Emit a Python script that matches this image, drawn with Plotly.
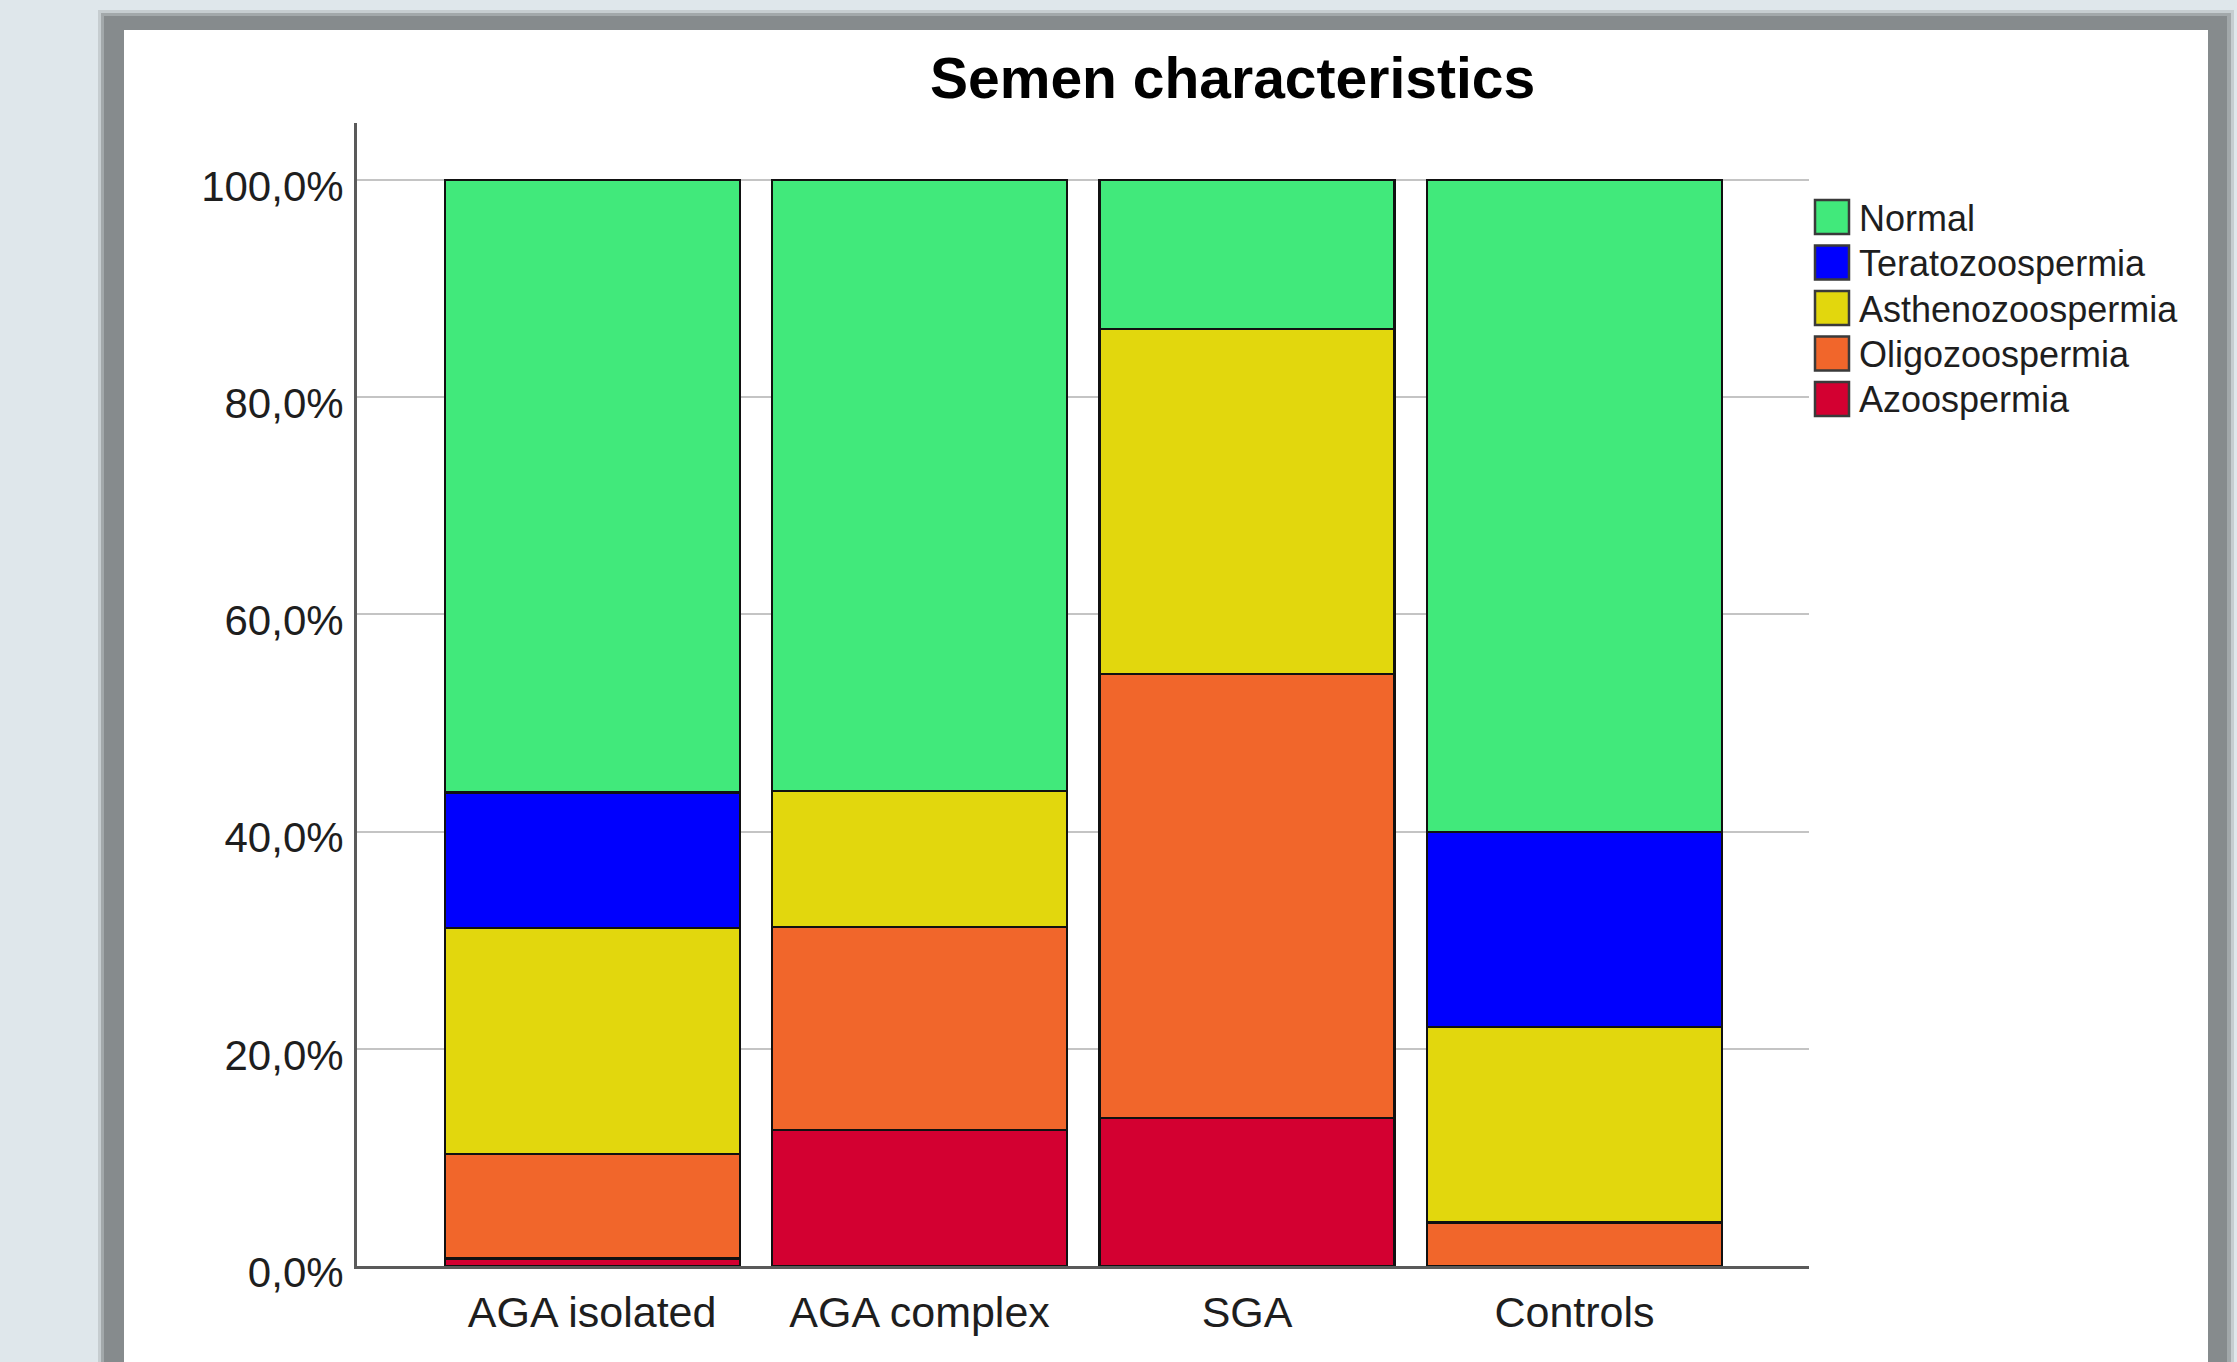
import plotly.graph_objects as go

# ---- data ----
categories = ["AGA isolated", "AGA complex", "SGA", "Controls"]
series_names = ["Azoospermia", "Oligozoospermia", "Asthenozoospermia", "Teratozoospermia", "Normal"]
azoospermia = [0.7, 12.5, 13.6, 0.0]
oligozoospermia = [9.6, 18.75, 40.9, 4.0]
asthenozoospermia = [20.8, 12.5, 31.8, 18.0]
teratozoospermia = [12.5, 0.0, 0.0, 18.0]
normal = [56.4, 56.25, 13.7, 60.0]
tick_values = [0, 20, 40, 60, 80, 100]
tick_labels = ["0,0%", "20,0%", "40,0%", "60,0%", "80,0%", "100,0%"]
legend_order = ["Normal", "Teratozoospermia", "Asthenozoospermia", "Oligozoospermia", "Azoospermia"]

colors = {
    "Normal": "#41e97b",
    "Teratozoospermia": "#0000fe",
    "Asthenozoospermia": "#e2d70d",
    "Oligozoospermia": "#f1662b",
    "Azoospermia": "#d30031",
}
values = {
    "Azoospermia": azoospermia,
    "Oligozoospermia": oligozoospermia,
    "Asthenozoospermia": asthenozoospermia,
    "Teratozoospermia": teratozoospermia,
    "Normal": normal,
}

W, H = 2237, 1362
FONT = "Liberation Sans, Arial, Helvetica, sans-serif"


def px(x):
    return x / W


def py(y):
    return (H - y) / H


fig = go.Figure()
for name in series_names:
    fig.add_trace(go.Bar(
        x=categories, y=values[name], name=name,
        marker=dict(color=colors[name], line=dict(color="#111111", width=2.2)),
        showlegend=False,
    ))

shapes = [
    # soft shadow + grey frame + white page
    dict(type="rect", xref="paper", yref="paper", x0=px(98), x1=px(2234), y0=0, y1=py(10),
         fillcolor="#c6cdd0", line=dict(width=0), layer="below"),
    dict(type="rect", xref="paper", yref="paper", x0=px(101), x1=px(2231), y0=0, y1=py(13),
         fillcolor="#a2a8aa", line=dict(width=0), layer="below"),
    dict(type="rect", xref="paper", yref="paper", x0=px(104), x1=px(2227), y0=0, y1=py(16),
         fillcolor="#868b8d", line=dict(width=0), layer="below"),
    dict(type="rect", xref="paper", yref="paper", x0=px(124), x1=px(2208), y0=0, y1=py(30),
         fillcolor="#ffffff", line=dict(width=0), layer="below"),
]

annotations = []
# legend drawn by hand (swatches + labels) to match the original's large swatches
sw_left, sw_size, row0, pitch = 1815, 34, 200, 45.5
for i, name in enumerate(legend_order):
    top = row0 + i * pitch
    shapes.append(dict(type="rect", xref="paper", yref="paper",
                       x0=px(sw_left), x1=px(sw_left + sw_size),
                       y0=py(top + sw_size), y1=py(top),
                       fillcolor=colors[name], line=dict(color="#3a3a3a", width=2.5), layer="above"))
    annotations.append(dict(xref="paper", yref="paper", x=px(1857), y=py(top + sw_size / 2 + 1),
                            text=name, showarrow=False, xanchor="left", yanchor="middle",
                            font=dict(family=FONT, size=36, color="#1e1e1e")))

annotations.append(dict(xref="paper", yref="paper", x=px(1232), y=py(78),
                        text="<b>Semen characteristics</b>", showarrow=False,
                        xanchor="center", yanchor="middle",
                        font=dict(family=FONT, size=57, color="#000000")))

fig.update_layout(
    width=W, height=H,
    autosize=False,
    margin=dict(l=0, r=0, t=0, b=0, pad=0),
    paper_bgcolor="#dfe7eb",
    plot_bgcolor="rgba(0,0,0,0)",
    barmode="stack",
    bargap=0.099,
    shapes=shapes,
    annotations=annotations,
    font=dict(family=FONT, color="#1e1e1e"),
    xaxis=dict(
        domain=[px(357), px(1809)],
        type="category",
        range=[-0.718, 3.716],
        automargin=False,
        showgrid=False,
        showline=True, linecolor="#5a5a5a", linewidth=3,
        ticks="", tickfont=dict(family=FONT, size=43, color="#1e1e1e"),
        ticklabelstandoff=6,
        zeroline=False,
    ),
    yaxis=dict(
        domain=[py(1266), py(123)],
        range=[0, 105.25],
        automargin=False,
        tickvals=tick_values, ticktext=tick_labels,
        showgrid=True, gridcolor="#c4c4c4", gridwidth=2,
        showline=True, linecolor="#5a5a5a", linewidth=3,
        ticks="", tickfont=dict(family=FONT, size=42, color="#1e1e1e"),
        ticklabelstandoff=2,
        ticklabelshift=6,
        zeroline=False,
    ),
)

fig.write_html(
    "out.html",
    config={"responsive": False, "displayModeBar": False},
    post_script="document.body.style.margin='0';document.body.style.padding='0';"
                "document.body.style.overflow='hidden';",
)
